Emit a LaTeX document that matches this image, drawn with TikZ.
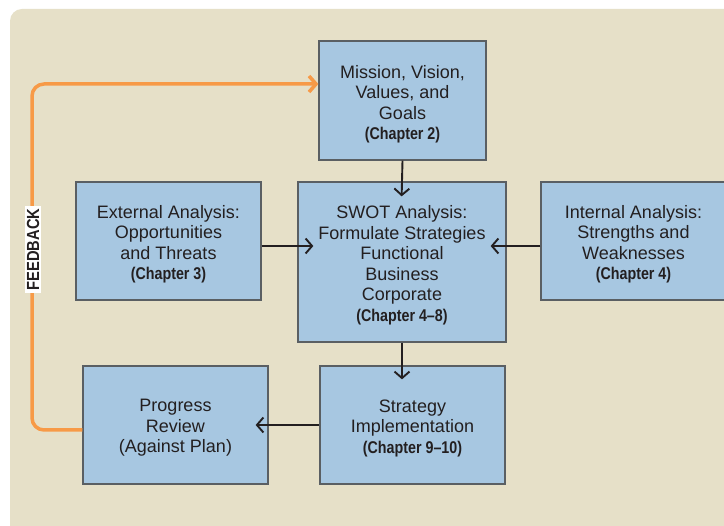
\documentclass[tikz,border=0pt]{standalone}
\usepackage{fontspec}
\setmainfont{Liberation Sans}
\newfontfamily\condfont[FakeStretch=0.84]{Liberation Sans}
\usetikzlibrary{arrows.meta}
\definecolor{bgc}{HTML}{E6E0C8}
\definecolor{boxc}{HTML}{A7C7E1}
\definecolor{edgec}{HTML}{5A5F63}
\definecolor{orangec}{HTML}{F79A47}
\definecolor{inkc}{HTML}{231F20}
\newcommand\chp[1]{{\condfont\bfseries\fontsize{17}{20.5}\selectfont #1}}
\tikzset{
  box/.style={draw=edgec, line width=1.3pt, fill=boxc, inner sep=0pt},
  txt/.style={inner sep=0pt, align=center, font=\fontsize{18}{20.5}\selectfont, text=inkc},
  arr/.style={draw=inkc, line width=1.9pt, -{Straight Barb[length=6.5pt,width=15pt]}},
  fback/.style={draw=orangec, line width=3.5pt, rounded corners=12pt, -{Straight Barb[length=7pt,width=16pt]}}
}
\begin{document}
\begin{tikzpicture}[x=1pt,y=-1pt]
\useasboundingbox (0,0) rectangle (724,526);
\fill[white] (0,0) rectangle (724,526);
\fill[bgc, rounded corners=12pt] (10,9) rectangle (745,545);

\node[box, minimum width=167pt, minimum height=119pt] (mission) at (402.5,100.5) {};
\node[box, minimum width=185pt, minimum height=118pt] (ext) at (168.5,241) {};
\node[box, minimum width=208pt, minimum height=160pt] (swot) at (402,262) {};
\node[box, minimum width=185pt, minimum height=118pt] (int) at (633.5,241) {};
\node[box, minimum width=185pt, minimum height=118pt] (prog) at (175.5,425) {};
\node[box, minimum width=185pt, minimum height=118pt] (impl) at (412.5,425) {};

\node[txt] (missiont) at ([yshift=-3.5pt]mission.center)
  {Mission, Vision,\\Values, and\\Goals\\\chp{(Chapter 2)}};
\node[txt] (extt) at ([yshift=-3pt]ext.center)
  {External Analysis:\\Opportunities\\and Threats\\\chp{(Chapter 3)}};
\node[txt] (swott) at ([yshift=-3pt]swot.center)
  {SWOT Analysis:\\Formulate Strategies\\Functional\\Business\\Corporate\\\chp{(Chapter 4–8)}};
\node[txt] (intt) at ([yshift=-3pt]int.center)
  {Internal Analysis:\\Strengths and\\Weaknesses\\\chp{(Chapter 4)}};
\node[txt] (progt) at ([yshift=-3pt]prog.center)
  {Progress\\Review\\(Against Plan)};
\node[txt] (implt) at ([yshift=-3pt]impl.center)
  {Strategy\\Implementation\\\chp{(Chapter 9–10)}};

\coordinate (e1) at ([yshift=-5pt]ext.east);
\coordinate (i1) at ([yshift=-5pt]int.west);
\coordinate (p1) at ([yshift=-5pt]prog.west);
\coordinate (fb) at (32,84);

\draw[arr, shorten >=-15pt] (mission.south) -- (swot.north);
\draw[arr, shorten >=-16pt] (e1) -- (e1 -| swot.west);
\draw[arr, shorten >=-16pt] (i1) -- (i1 -| swot.east);
\draw[arr, shorten >=-14pt] (swot.south) -- (swot.south |- impl.north);
\draw[arr, shorten >=-13pt] (impl.west) -- (prog.east);
\draw[fback] (p1) -| (fb) -- (fb -| mission.west);

\node[fill=white, rotate=90, inner xsep=2.5pt, inner ysep=1.5pt, text=inkc,
  font=\condfont\bfseries\fontsize{17.5}{17.5}\selectfont] (fbl) at (33,249.5) {FEEDBACK};
\end{tikzpicture}
\end{document}
